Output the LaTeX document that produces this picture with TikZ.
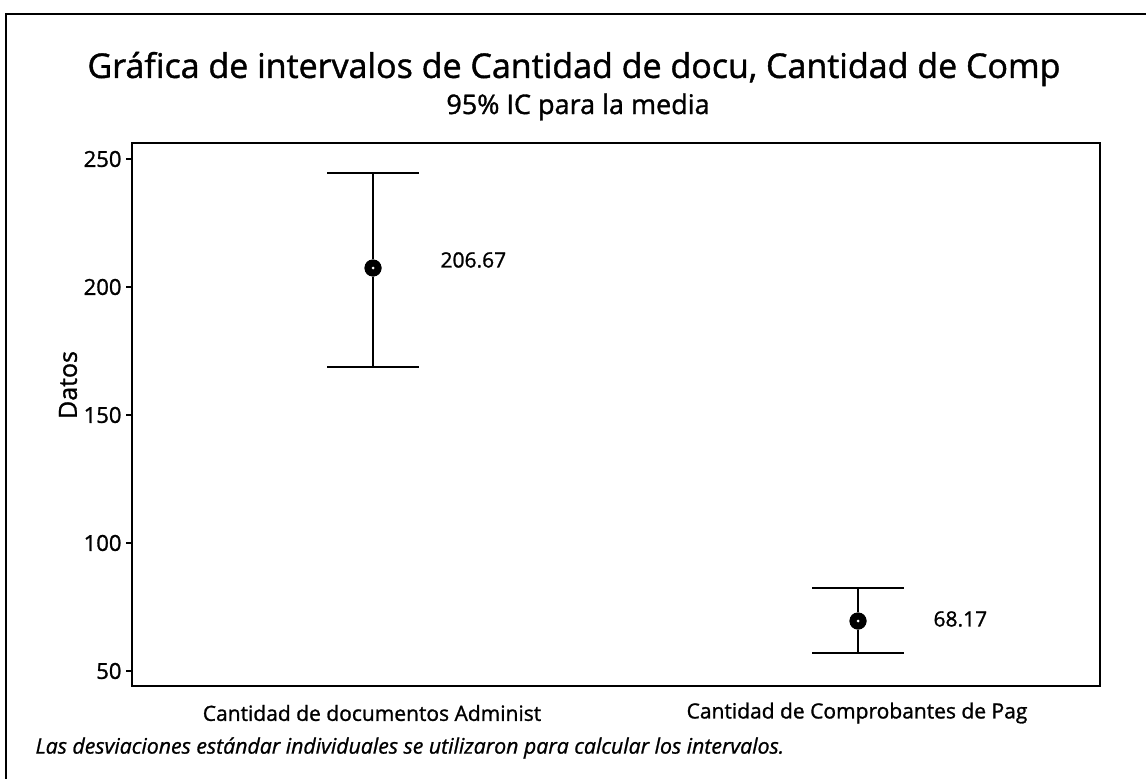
\documentclass[tikz,border=0pt]{standalone}
\usepackage{fontspec}
\setmainfont{Open Sans}[UprightFeatures={FakeBold=1.2},ItalicFeatures={FakeBold=1.0}]
\begin{document}
\begin{tikzpicture}[x=1pt,y=-1pt,
  frame/.style={line width=1.5pt},
  plotbox/.style={line width=2pt},
  bar/.style={line width=2pt},
  capline/.style={line width=2.5pt},
  tickline/.style={line width=1.2pt},
  meanpt/.style={circle,fill=black,inner sep=0pt,minimum size=17pt},
  titletext/.style={font=\fontsize{34}{40}\selectfont},
  subtext/.style={font=\fontsize{27}{32}\selectfont},
  ticktext/.style={font=\fontsize{22}{26}\selectfont,anchor=east},
  valtext/.style={font=\fontsize{21}{25}\selectfont,anchor=west},
  cattext/.style={font=\fontsize{21}{25}\selectfont},
  notetext/.style={font=\fontsize{21.3}{25}\selectfont\itshape,anchor=west}]
\useasboundingbox (0,0) rectangle (1146,779);
\draw[frame] (6,779) -- (6,14) -- (1146,14);
\node[titletext] (title) at (574,69) {Gráfica de intervalos de Cantidad de docu, Cantidad de Comp};
\node[subtext] (sub) at (578,107) {95\% IC para la media};
\draw[plotbox] (132,143) rectangle (1100,686);
\foreach \v/\y in {250/159,200/287,150/415,100/543,50/671}{
  \draw[tickline] (132,\y) -- (126,\y);
  \node[ticktext] (t\v) at (125,\y) {\v};
}
\node[font=\fontsize{25}{30}\selectfont,rotate=90] (ylab) at (68,385) {Datos};
% interval 1
\coordinate (atop) at (373,173);
\coordinate (abot) at (373,367);
\node[meanpt] (amean) at (373,268) {};
\draw[bar] (atop) -- (amean) -- (abot);
\draw[capline] ([xshift=-46pt]atop) -- ([xshift=46pt]atop);
\draw[capline] ([xshift=-46pt]abot) -- ([xshift=46pt]abot);
\node[meanpt] at (amean) {};
\fill[white] (amean) circle (1.5pt);
\node[valtext] (alab) at (437,260) {206.67};
% interval 2
\coordinate (btop) at (858,588);
\coordinate (bbot) at (858,653);
\node[meanpt] (bmean) at (858,621) {};
\draw[bar] (btop) -- (bmean) -- (bbot);
\draw[capline] ([xshift=-46pt]btop) -- ([xshift=46pt]btop);
\draw[capline] ([xshift=-46pt]bbot) -- ([xshift=46pt]bbot);
\node[meanpt] at (bmean) {};
\fill[white] (bmean) circle (1.5pt);
\node[valtext] (blab) at (930,619) {68.17};
\node[cattext] (cata) at (372,713) {Cantidad de documentos Administ};
\node[cattext] (catb) at (857,713) {Cantidad de Comprobantes de Pag};
\node[notetext] (note) at (32,748) {Las desviaciones estándar individuales se utilizaron para calcular los intervalos.};
\end{tikzpicture}
\end{document}
